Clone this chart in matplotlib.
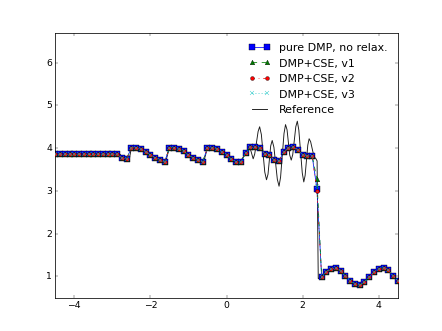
import numpy as np
import matplotlib
matplotlib.use('Agg')
import matplotlib.pyplot as plt

plt.style.use('classic')

# Grid of sample points, spacing 0.125 over the visible window
x = np.linspace(-4.5, 4.5, 73)

# Density, pure DMP
rho_dmp = [3.857] * 14 + [
    3.77, 3.75,
    4.01, 4.01, 3.97, 3.92, 3.84, 3.78, 3.72, 3.68,
    4.01, 4.01, 3.97, 3.93, 3.83, 3.78, 3.72, 3.68,
    4.01, 4.01, 3.98, 3.90, 3.83, 3.75, 3.68, 3.67,
    3.88, 4.02, 4.02, 4.00, 3.87, 3.85, 3.72, 3.70,
    3.90, 4.00, 4.02, 3.95, 3.84, 3.82, 3.82, 3.05,
    0.98, 1.11, 1.18, 1.19, 1.13, 1.02, 0.90, 0.82, 0.80,
    0.87, 0.98, 1.10, 1.18, 1.20, 1.14, 1.02, 0.90,
]

# CSE variants only differ visibly at the cell inside the shock
shock_idx = 55
shock_v1 = 3.28
shock_v2 = 3.00
shock_v3 = 3.12

# Reference (fine grid) solution, sampled along the drawn curve
ref_x = [-4.5, -2.8, -2.7, -2.55, -2.5, -2.3, -2.1, -1.9, -1.6,
         -1.5, -1.3, -1.1, -0.9, -0.6, -0.5, -0.3, -0.1, 0.1, 0.35,
         0.5, 0.62, 0.70, 0.74, 0.785, 0.83, 0.87, 0.915, 0.96, 1.005,
         1.05, 1.09, 1.125, 1.16, 1.20, 1.245, 1.29, 1.335, 1.38, 1.42,
         1.465, 1.51, 1.55, 1.59, 1.625, 1.66, 1.70, 1.74, 1.78, 1.82,
         1.86, 1.90, 1.945, 1.99, 2.03, 2.065, 2.10, 2.135, 2.17, 2.21,
         2.26, 2.30, 2.35, 2.38, 2.395, 2.41, 2.5, 2.625, 2.75, 2.875,
         3.0, 3.125, 3.25, 3.375, 3.5, 3.625, 3.75, 3.875, 4.0, 4.125,
         4.25, 4.375, 4.5]
ref_y = [3.857, 3.857, 3.76, 3.76, 4.01, 4.0, 3.9, 3.8, 3.68,
         4.01, 4.0, 3.92, 3.8, 3.68, 4.01, 4.0, 3.88, 3.76, 3.67,
         3.88, 4.0, 3.75, 3.86, 4.12, 4.39, 4.50, 4.32, 3.88, 3.44,
         3.26, 3.39, 3.72, 4.05, 4.18, 4.02, 3.645, 3.27, 3.11, 3.32,
         3.83, 4.34, 4.55, 4.43, 4.135, 3.84, 3.72, 3.85, 4.175, 4.50,
         4.63, 4.42, 3.92, 3.42, 3.21, 3.36, 3.715, 4.07, 4.22, 4.15,
         3.95, 3.80, 3.75, 3.70, 2.2, 0.95, 0.99, 1.11, 1.19, 1.19,
         1.13, 1.02, 0.90, 0.82, 0.80, 0.87, 0.98, 1.10, 1.18, 1.20,
         1.14, 1.02, 0.90]


def with_shock(values, v):
    out = list(values)
    out[shock_idx] = v
    return out


fig = plt.figure(figsize=(8, 6), dpi=55.25)
ax = fig.add_subplot(111)

h_ref, = ax.plot(ref_x, ref_y, '-', color='0.1', lw=1.2, label='Reference', zorder=1)
h0, = ax.plot(x, rho_dmp, 'bs-', ms=8, label='pure DMP, no relax.', zorder=2)
h1, = ax.plot(x, with_shock(rho_dmp, shock_v1), 'g^--', ms=6, label='DMP+CSE, v1', zorder=3)
h2, = ax.plot(x, with_shock(rho_dmp, shock_v2), 'ro-.', ms=5, label='DMP+CSE, v2', zorder=4)
h3, = ax.plot(x, with_shock(rho_dmp, shock_v3), 'cx:', ms=5, label='DMP+CSE, v3', zorder=5)

ax.set_xlim(-4.5, 4.5)
ax.set_ylim(0.5, 6.7)
ax.set_xticks([-4, -2, 0, 2, 4])
ax.set_yticks([1, 2, 3, 4, 5, 6])

ax.legend(handles=[h0, h1, h2, h3, h_ref], loc='upper right', frameon=False,
          fontsize='large')

fig.savefig('out.png', dpi=55.25)
